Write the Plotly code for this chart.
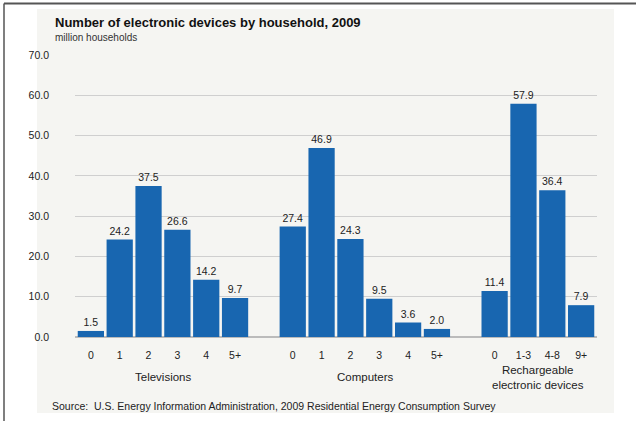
import plotly.graph_objects as go

# Data
tv_labels = ["0", "1", "2", "3", "4", "5+"]
tv_values = [1.5, 24.2, 37.5, 26.6, 14.2, 9.7]
pc_labels = ["0", "1", "2", "3", "4", "5+"]
pc_values = [27.4, 46.9, 24.3, 9.5, 3.6, 2.0]
rc_labels = ["0", "1-3", "4-8", "9+"]
rc_values = [11.4, 57.9, 36.4, 7.9]
groups = ["Televisions", "Computers", "Rechargeable<br>electronic devices"]
y_ticks = [0, 10, 20, 30, 40, 50, 60, 70]

# positions (one empty slot gap of 2 between groups)
xs, labels, values = [], [], []
pos = 0
group_centers = []
for labs, vals in [(tv_labels, tv_values), (pc_labels, pc_values), (rc_labels, rc_values)]:
    start = pos
    for l, v in zip(labs, vals):
        xs.append(pos); labels.append(l); values.append(v)
        pos += 1
    group_centers.append((start + pos - 1) / 2)
    pos += 1

W, H = 636, 421
L, R, T, B = 75, 39, 55, 84
pw, ph = W - L - R, H - T - B

def px(x):
    return (x - L) / pw

def py(y):
    return (H - B - y) / ph

FONT = "Liberation Sans"

fig = go.Figure()
fig.add_trace(go.Bar(
    x=xs, y=values, marker=dict(color="#1866b0", line=dict(width=0)),
    text=[f"{v:.1f}" for v in values], textposition="outside",
    textfont=dict(size=10.5, color="#222", family=FONT),
    cliponaxis=False, width=0.91,
))

shapes = [
    dict(type="rect", xref="paper", yref="paper", x0=px(37), x1=px(614), y0=py(413), y1=py(9),
         fillcolor="#f5f5f2", line=dict(width=0), layer="below"),
    dict(type="line", xref="paper", yref="paper", x0=px(4), x1=px(636), y0=py(3.5), y1=py(3.5),
         line=dict(color="#555", width=2)),
    dict(type="line", xref="paper", yref="paper", x0=px(4), x1=px(4), y0=py(3.5), y1=py(421),
         line=dict(color="#555", width=1.5)),
]

annotations = [
    dict(text="<b>Number of electronic devices by household, 2009</b>", xref="paper", yref="paper",
         x=px(53), y=py(22), xanchor="left", yanchor="middle", showarrow=False,
         font=dict(size=13, color="#111", family=FONT)),
    dict(text="million households", xref="paper", yref="paper",
         x=px(53), y=py(38), xanchor="left", yanchor="middle", showarrow=False,
         font=dict(size=10, color="#333", family=FONT)),
    dict(text="Source:  U.S. Energy Information Administration, 2009 Residential Energy Consumption Survey",
         xref="paper", yref="paper", x=px(50), y=py(406), xanchor="left", yanchor="middle",
         showarrow=False, font=dict(size=10.5, color="#222", family=FONT)),
]
for gc, g in zip(group_centers, groups):
    annotations.append(dict(text=g, x=gc, xref="x", yref="paper", y=py(377), yanchor="middle",
                            showarrow=False, font=dict(size=11.5, color="#222", family=FONT)))

fig.update_layout(
    width=W, height=H, margin=dict(l=L, r=R, t=T, b=B),
    paper_bgcolor="white", plot_bgcolor="rgba(0,0,0,0)",
    showlegend=False, bargap=0.07,
    shapes=shapes, annotations=annotations,
    font=dict(family=FONT, color="#222"),
    xaxis=dict(tickvals=xs, ticktext=labels, range=[-0.55, pos - 1 - 0.45], showgrid=False,
               zeroline=False, showline=False, ticks="", ticklabelstandoff=10,
               tickfont=dict(size=10.5, color="#222")),
    yaxis=dict(range=[0, 70], tickvals=y_ticks, tickformat=".1f", showgrid=True,
               gridcolor="#cfcfcf", gridwidth=1, zeroline=True, zerolinecolor="#bbb",
               ticks="", ticklabelstandoff=25, tickfont=dict(size=10.5, color="#222")),
)

fig.write_html("out.html")
